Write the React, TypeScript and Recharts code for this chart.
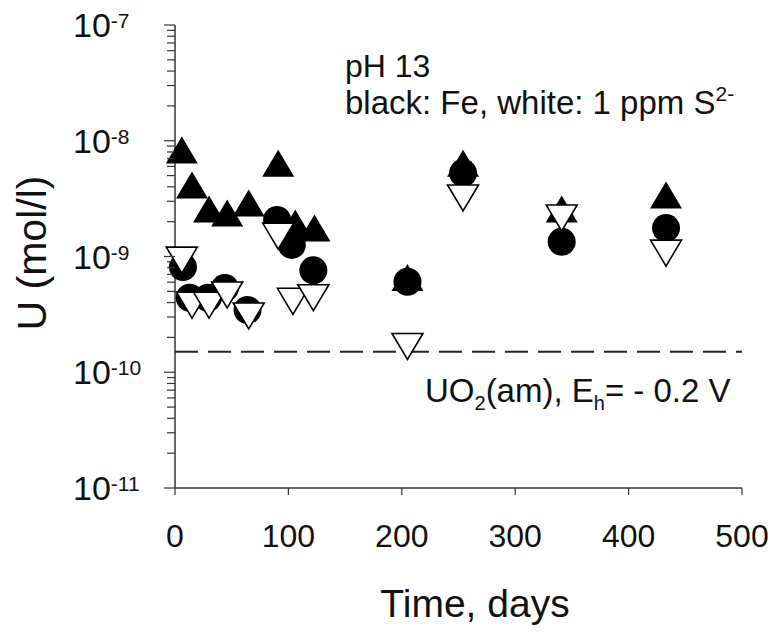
import { ScatterChart, Scatter, XAxis, YAxis, ReferenceLine } from "recharts";

const FONT = "Arial, 'Liberation Sans', Helvetica, sans-serif";

// axes
const dayTicks = [0, 100, 200, 300, 400, 500];
const decades = [1e-11, 1e-10, 1e-9, 1e-8, 1e-7];
const minorSteps = [2, 3, 4, 5, 6, 7, 8, 9];

// black triangles (Fe)
const feTriDays = [6, 15, 30, 46, 65, 91, 106, 123, 205, 254, 341, 433];
const feTriU = [8.3e-9, 4.15e-9, 2.57e-9, 2.38e-9, 2.9e-9, 6.4e-9, 1.95e-9, 1.76e-9, 6.6e-10, 6.4e-9, 2.57e-9, 3.4e-9];

// black circles (Fe)
const feDotDays = [7, 13, 29, 44, 64, 90, 103, 122, 205, 254, 341, 433];
const feDotU = [8.1e-10, 4.4e-10, 4.4e-10, 5.35e-10, 3.45e-10, 2.07e-9, 1.26e-9, 7.6e-10, 6.05e-10, 5.26e-9, 1.34e-9, 1.76e-9];

// white triangles (1 ppm S2-)
const sTriDays = [6, 15, 30, 46, 65, 91, 104, 122, 205, 254, 341, 433];
const sTriU = [9.3e-10, 3.8e-10, 3.8e-10, 4.65e-10, 3.06e-10, 1.5e-9, 4.1e-10, 4.4e-10, 1.67e-10, 3.2e-9, 2.15e-9, 1.07e-9];

// UO2(am) solubility, Eh = -0.2 V
const uo2Limit = 1.5e-10;

const yTicks = [
  ...decades,
  ...decades.slice(0, -1).flatMap((d) => minorSteps.map((m) => m * d)),
];

const toPoints = (days: number[], u: number[]) => days.map((d, i) => ({ day: d, u: u[i] }));

const UpTri = (p: any) => {
  const { cx, cy } = p;
  const w = 32;
  const h = 27;
  return <path d={`M${cx},${cy - h / 2}L${cx + w / 2},${cy + h / 2}L${cx - w / 2},${cy + h / 2}Z`} fill="#000" />;
};

const Dot = (p: any) => <circle cx={p.cx} cy={p.cy} r={14} fill="#000" />;

const DownTri = (p: any) => {
  const { cx, cy } = p;
  const w = 31;
  const h = 26;
  return (
    <path
      d={`M${cx - w / 2},${cy - h / 2}L${cx + w / 2},${cy - h / 2}L${cx},${cy + h / 2}Z`}
      fill="#fff"
      stroke="#000"
      strokeWidth={1.6}
      strokeLinejoin="miter"
    />
  );
};

function YTick(props: any) {
  const { x, y, payload } = props;
  const lg = Math.log10(payload.value);
  const exp = Math.round(lg);
  const major = Math.abs(lg - exp) < 1e-6;
  return (
    <g>
      <line x1={x} x2={x - (major ? 11 : 8)} y1={y} y2={y} stroke="#333" strokeWidth={1.2} />
      {major && (
        <text x={x - 102} y={y + 12} fontSize={34} fontFamily={FONT} fill="#111">
          10
          <tspan dy={-9} fontSize={21}>
            {exp}
          </tspan>
        </text>
      )}
    </g>
  );
}

function XTick(props: any) {
  const { x, y, payload } = props;
  return (
    <text x={x} y={y + 52} textAnchor="middle" fontSize={32} fontFamily={FONT} fill="#111">
      {payload.value}
    </text>
  );
}

export default function App() {
  return (
    <div style={{ position: "absolute", left: 0, top: 0, width: 776, height: 632, background: "#fff" }}>
      <ScatterChart width={776} height={632} margin={{ top: 25, right: 34, bottom: 0, left: 0 }}>
        <XAxis
          xAxisId="b"
          dataKey="day"
          type="number"
          domain={[0, 500]}
          ticks={dayTicks}
          interval={0}
          height={144}
          tickSize={7}
          tickMargin={0}
          tick={<XTick />}
          axisLine={{ stroke: "#333", strokeWidth: 1.5 }}
          tickLine={{ stroke: "#333", strokeWidth: 1.2 }}
          label={{
            content: () => (
              <text x={475} y={617} textAnchor="middle" fontSize={39} fontFamily={FONT} fill="#111">
                Time, days
              </text>
            ),
          }}
        />
        <XAxis
          xAxisId="t"
          orientation="top"
          type="number"
          domain={[0, 500]}
          height={0}
          tick={false}
          tickLine={false}
          axisLine={{ stroke: "#444", strokeWidth: 1.5 }}
        />
        <YAxis
          yAxisId="l"
          dataKey="u"
          type="number"
          scale="log"
          domain={[1e-11, 1e-7]}
          allowDataOverflow
          ticks={yTicks}
          interval={0}
          width={175}
          tickSize={0}
          tickMargin={0}
          tickLine={false}
          tick={<YTick />}
          axisLine={{ stroke: "#333", strokeWidth: 1.5 }}
          label={{
            content: () => (
              <text
                x={32}
                y={253}
                transform="rotate(-90, 32, 253)"
                textAnchor="middle"
                dominantBaseline="central"
                fontSize={41}
                fontFamily={FONT}
                fill="#111"
              >
                U (mol/l)
              </text>
            ),
          }}
        />
        <YAxis
          yAxisId="r"
          orientation="right"
          type="number"
          domain={[0, 1]}
          width={0}
          tick={false}
          tickLine={false}
          axisLine={{ stroke: "#444", strokeWidth: 1.5 }}
        />
        <Scatter
          xAxisId="b"
          yAxisId="l"
          data={toPoints(feTriDays, feTriU)}
          shape={UpTri}
          isAnimationActive={false}
        />
        <Scatter
          xAxisId="b"
          yAxisId="l"
          data={toPoints(feDotDays, feDotU)}
          shape={Dot}
          isAnimationActive={false}
        />
        <Scatter
          xAxisId="b"
          yAxisId="l"
          data={toPoints(sTriDays, sTriU)}
          shape={DownTri}
          isAnimationActive={false}
        />
        <ReferenceLine
          xAxisId="b"
          yAxisId="l"
          y={uo2Limit}
          stroke="#222"
          strokeWidth={2}
          strokeDasharray="23 10"
        />
      </ScatterChart>
      <svg
        width={776}
        height={632}
        style={{ position: "absolute", left: 0, top: 0, pointerEvents: "none" }}
        fontFamily={FONT}
        fill="#111"
      >
        <text x={345} y={77} fontSize={32}>
          pH 13
        </text>
        <text x={345} y={114} fontSize={33}>
          black: Fe, white: 1 ppm S
          <tspan dy={-13} fontSize={21}>
            2-
          </tspan>
        </text>
        <text x={425} y={402} fontSize={33}>
          UO
          <tspan dy={8} fontSize={20}>
            2
          </tspan>
          <tspan dy={-8}>(am), E</tspan>
          <tspan dy={8} fontSize={20}>
            h
          </tspan>
          <tspan dy={-8}>= - 0.2 V</tspan>
        </text>
      </svg>
    </div>
  );
}
